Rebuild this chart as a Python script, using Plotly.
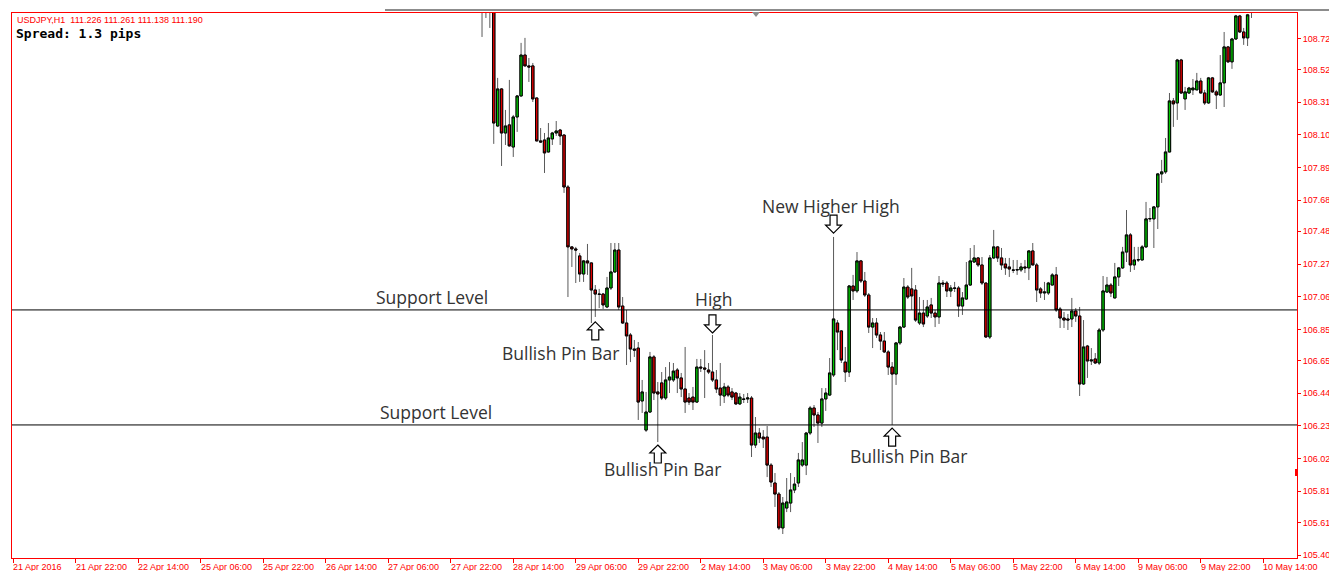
import plotly.graph_objects as go

# ---------------- data (USDJPY H1, bars counted from 21 Apr 2016 06:00) ----------------
FIRST_BAR = 120

opens = [
    109.050, 109.000, 108.950, 109.020, 108.157, 108.395, 108.112, 108.164, 108.022, 108.215,
    108.350, 108.613, 108.543, 108.543, 108.337, 108.061, 108.067, 107.990, 108.074, 108.112,
    108.131, 108.099, 107.765, 107.380, 107.367, 107.322, 107.206, 107.290, 107.277, 107.103,
    107.077, 107.077, 106.994, 107.116, 107.219, 107.360, 107.000, 106.891, 106.814, 106.724,
    106.730, 106.390, 106.203, 106.319, 106.673, 106.448, 106.506, 106.409, 106.525, 106.525,
    106.589, 106.538, 106.467, 106.409, 106.415, 106.383, 106.608, 106.602, 106.589, 106.576,
    106.525, 106.473, 106.422, 106.480, 106.448, 106.441, 106.371, 106.403, 106.403, 106.409,
    106.107, 106.184, 106.158, 106.158, 105.978, 105.863, 105.792, 105.574, 105.702, 105.734,
    105.818, 105.863, 105.978, 105.978, 106.184, 106.345, 106.300, 106.248, 106.403, 106.428,
    106.557, 106.891, 106.840, 106.640, 106.576, 107.129, 107.097, 107.290, 107.161, 107.071,
    106.865, 106.891, 106.814, 106.775, 106.705, 106.608, 106.563, 106.763, 106.865, 107.122,
    107.110, 107.103, 106.891, 106.955, 106.936, 107.007, 106.955, 106.930, 107.148, 107.148,
    107.097, 107.116, 107.116, 107.000, 107.045, 107.135, 107.283, 107.309, 107.264, 107.148,
    106.801, 107.309, 107.380, 107.309, 107.270, 107.251, 107.232, 107.232, 107.232, 107.251,
    107.245, 107.354, 107.264, 107.110, 107.084, 107.084, 107.135, 107.200, 106.981, 106.923,
    106.917, 106.917, 106.968, 106.936, 106.499, 106.743, 106.647, 106.660, 106.634, 106.846,
    107.090, 107.135, 107.052, 107.187, 107.245, 107.347, 107.457, 107.264, 107.296, 107.296,
    107.380, 107.560, 107.560, 107.637, 107.849, 107.862, 107.990, 108.318, 108.305, 108.581,
    108.331, 108.369, 108.389, 108.389, 108.446, 108.369, 108.305, 108.466, 108.376, 108.356,
    108.434, 108.665, 108.569, 108.716, 108.864, 108.761, 108.723, 108.900,
]

highs = [
    109.120, 109.050, 109.060, 109.040, 108.466, 108.400, 108.260, 108.453, 108.228, 108.356,
    108.691, 108.723, 108.594, 108.562, 108.340, 108.144, 108.112, 108.176, 108.119, 108.189,
    108.138, 108.102, 107.778, 107.383, 107.380, 107.341, 107.296, 107.399, 107.280, 107.135,
    107.110, 107.084, 107.187, 107.405, 107.405, 107.405, 107.058, 106.975, 106.827, 106.782,
    106.769, 106.525, 106.448, 106.705, 106.685, 106.512, 106.576, 106.608, 106.640, 106.634,
    106.602, 106.570, 106.737, 106.441, 106.480, 106.660, 106.660, 106.717, 106.634, 106.814,
    106.589, 106.634, 106.506, 106.493, 106.473, 106.448, 106.441, 106.435, 106.441, 106.422,
    106.287, 106.216, 106.203, 106.229, 105.991, 105.927, 105.805, 105.773, 105.895, 105.927,
    105.901, 106.056, 106.126, 106.191, 106.358, 106.364, 106.319, 106.473, 106.473, 106.666,
    107.444, 106.910, 106.846, 106.737, 107.135, 107.200, 107.347, 107.296, 107.219, 107.084,
    106.923, 106.923, 106.833, 106.833, 106.717, 106.640, 106.769, 106.872, 107.180, 107.135,
    107.245, 107.135, 107.058, 107.039, 107.039, 107.052, 106.975, 107.193, 107.167, 107.161,
    107.135, 107.155, 107.129, 107.090, 107.283, 107.373, 107.392, 107.315, 107.315, 107.150,
    107.328, 107.489, 107.386, 107.373, 107.309, 107.309, 107.296, 107.296, 107.277, 107.296,
    107.360, 107.405, 107.277, 107.122, 107.155, 107.155, 107.212, 107.251, 106.994, 106.962,
    106.949, 107.052, 106.987, 106.994, 106.910, 106.750, 106.730, 106.698, 106.859, 107.193,
    107.187, 107.148, 107.277, 107.251, 107.380, 107.617, 107.469, 107.380, 107.380, 107.392,
    107.669, 107.630, 107.643, 107.855, 107.939, 108.080, 108.369, 108.337, 108.588, 108.588,
    108.408, 108.408, 108.459, 108.498, 108.466, 108.389, 108.472, 108.472, 108.389, 108.613,
    108.761, 108.671, 108.723, 108.871, 108.871, 108.787, 108.877, 108.950,
]

lows = [
    108.729, 108.851, 108.787, 108.042, 108.150, 107.900, 108.035, 108.025, 107.958, 108.119,
    108.345, 108.540, 108.440, 108.311, 108.058, 108.048, 107.855, 107.987, 108.035, 108.093,
    108.035, 107.727, 107.058, 107.251, 107.148, 107.155, 107.155, 107.200, 106.891, 106.930,
    106.987, 106.981, 106.987, 107.103, 107.215, 106.975, 106.885, 106.621, 106.640, 106.673,
    106.268, 106.313, 106.191, 106.313, 106.396, 106.126, 106.396, 106.396, 106.441, 106.512,
    106.441, 106.415, 106.313, 106.364, 106.332, 106.377, 106.576, 106.409, 106.563, 106.512,
    106.441, 106.358, 106.377, 106.415, 106.396, 106.364, 106.364, 106.377, 106.377, 106.030,
    106.088, 106.120, 106.088, 105.901, 105.837, 105.709, 105.561, 105.535, 105.676, 105.676,
    105.798, 105.837, 105.966, 105.914, 106.171, 106.223, 106.120, 106.223, 106.326, 106.422,
    106.544, 106.717, 106.634, 106.512, 106.544, 107.039, 107.084, 107.148, 107.058, 106.827,
    106.730, 106.795, 106.717, 106.698, 106.557, 106.236, 106.493, 106.750, 106.859, 107.045,
    106.975, 106.898, 106.878, 106.865, 106.923, 106.923, 106.865, 106.885, 107.122, 107.058,
    107.058, 107.090, 106.930, 106.943, 107.039, 107.129, 107.277, 107.251, 107.135, 106.795,
    106.788, 107.302, 107.283, 107.232, 107.200, 107.187, 107.212, 107.200, 107.219, 107.212,
    107.167, 107.262, 107.026, 107.052, 107.039, 107.071, 107.133, 106.962, 106.859, 106.859,
    106.846, 106.865, 106.898, 106.422, 106.493, 106.538, 106.621, 106.627, 106.621, 106.833,
    107.084, 107.058, 107.050, 107.129, 107.238, 107.283, 107.219, 107.232, 107.283, 107.294,
    107.373, 107.540, 107.373, 107.495, 107.791, 107.849, 107.988, 108.151, 108.196, 108.363,
    108.260, 108.363, 108.356, 108.387, 108.367, 108.292, 108.299, 108.369, 108.266, 108.350,
    108.279, 108.562, 108.524, 108.710, 108.755, 108.678, 108.671, 108.851,
]

closes = [
    109.000, 108.950, 109.020, 108.176, 108.395, 108.112, 108.157, 108.029, 108.215, 108.350,
    108.613, 108.543, 108.536, 108.331, 108.061, 108.054, 107.984, 108.080, 108.112, 108.125,
    108.093, 107.765, 107.380, 107.367, 107.360, 107.206, 107.290, 107.277, 107.103, 107.077,
    107.075, 107.007, 107.116, 107.219, 107.360, 106.994, 106.891, 106.808, 106.724, 106.717,
    106.383, 106.448, 106.319, 106.673, 106.441, 106.435, 106.409, 106.525, 106.544, 106.582,
    106.538, 106.467, 106.383, 106.383, 106.383, 106.608, 106.602, 106.595, 106.576, 106.525,
    106.467, 106.428, 106.480, 106.428, 106.415, 106.371, 106.415, 106.400, 106.409, 106.107,
    106.184, 106.152, 106.146, 105.978, 105.869, 105.792, 105.574, 105.734, 105.741, 105.818,
    105.856, 106.011, 106.011, 106.184, 106.345, 106.300, 106.248, 106.403, 106.441, 106.570,
    106.917, 106.833, 106.653, 106.576, 107.129, 107.097, 107.290, 107.161, 107.071, 106.865,
    106.891, 106.814, 106.775, 106.705, 106.608, 106.563, 106.763, 106.865, 107.122, 107.058,
    107.065, 106.910, 106.955, 106.885, 106.994, 106.955, 106.930, 107.148, 107.142, 107.097,
    107.116, 107.114, 107.000, 107.052, 107.135, 107.290, 107.309, 107.264, 107.148, 106.801,
    107.309, 107.380, 107.309, 107.264, 107.245, 107.238, 107.230, 107.234, 107.251, 107.245,
    107.354, 107.264, 107.103, 107.084, 107.090, 107.148, 107.200, 106.975, 106.923, 106.910,
    106.910, 106.968, 106.936, 106.499, 106.737, 106.647, 106.653, 106.634, 106.846, 107.097,
    107.135, 107.084, 107.187, 107.245, 107.347, 107.457, 107.264, 107.296, 107.298, 107.380,
    107.560, 107.562, 107.637, 107.849, 107.862, 107.990, 108.318, 108.299, 108.581, 108.369,
    108.376, 108.401, 108.401, 108.446, 108.369, 108.305, 108.466, 108.376, 108.356, 108.434,
    108.665, 108.569, 108.716, 108.864, 108.761, 108.723, 108.871, 108.930,
]

support_levels = [106.975, 106.236]

xtick_bars = [0, 16, 32, 48, 64, 80, 96, 112, 128, 144, 160,
              176, 192, 208, 224, 240, 256, 272, 288, 304, 320]
xtick_labels = ["21 Apr 2016", "21 Apr 22:00", "22 Apr 14:00", "25 Apr 06:00",
                "25 Apr 22:00", "26 Apr 14:00", "27 Apr 06:00", "27 Apr 22:00",
                "28 Apr 14:00", "29 Apr 06:00", "29 Apr 22:00", "2 May 14:00",
                "3 May 06:00", "3 May 22:00", "4 May 14:00", "5 May 06:00",
                "5 May 22:00", "6 May 14:00", "9 May 06:00", "9 May 22:00",
                "10 May 14:00"]
ytick_values = [105.40, 105.61, 105.81, 106.02, 106.23, 106.44, 106.65, 106.85,
                107.06, 107.27, 107.48, 107.68, 107.89, 108.10, 108.31, 108.52, 108.72]

# marker arrows: (bar index, tip price, direction)
arrow_bars = [149, 165, 179, 210, 225]
arrow_tips = [106.898, 106.107, 106.827, 107.469, 106.216]
arrow_dirs = ["up", "up", "down", "down", "up"]

# text labels: (text, bar position, price)
label_texts = ["Support Level", "Support Level", "Bullish Pin Bar", "High",
               "New Higher High", "Bullish Pin Bar", "Bullish Pin Bar"]
label_bars = [107.1, 108.2, 140.2, 179.3, 209.3, 166.3, 229.3]
label_prices = [107.058, 106.319, 106.698, 107.045, 107.643, 105.953, 106.036]

# ---------------- figure ----------------
W, H = 1329, 571
ML, MR, MT, MB = 12, 32, 13, 13
PW, PH = W - ML - MR, H - MT - MB
x_range = [-0.333, 328.65]
y_range = [105.381, 108.883]
px_x = (x_range[1] - x_range[0]) / PW
px_y = (y_range[1] - y_range[0]) / PH

n = len(opens)
bars = list(range(FIRST_BAR, FIRST_BAR + n))
body_hi = [max(o, c) for o, c in zip(opens, closes)]
body_lo = [min(o, c) for o, c in zip(opens, closes)]

WICK = "#5a5a5a"
fig = go.Figure()
fig.add_trace(go.Candlestick(
    x=bars, open=opens, high=highs, low=lows, close=closes,
    increasing=dict(line=dict(color=WICK, width=1), fillcolor=WICK),
    decreasing=dict(line=dict(color=WICK, width=1), fillcolor=WICK),
    hoverinfo="skip", showlegend=False))
fig.add_trace(go.Candlestick(
    x=bars, open=opens, high=body_hi, low=body_lo, close=closes,
    increasing=dict(line=dict(color="black", width=1), fillcolor="#00c800"),
    decreasing=dict(line=dict(color="black", width=1), fillcolor="#e00000"),
    hoverinfo="skip", showlegend=False))

shapes = []
for lvl in support_levels:
    shapes.append(dict(type="line", xref="paper", yref="y", x0=0, x1=1, y0=lvl, y1=lvl,
                       line=dict(color="black", width=1)))

# block arrow outline in pixel offsets (x, distance from tip)
arrow_px = [(0, 0), (8, 8), (3.5, 8), (3.5, 18), (-3.5, 18), (-3.5, 8), (-8, 8)]
for b, tip, d in zip(arrow_bars, arrow_tips, arrow_dirs):
    sgn = -1 if d == "up" else 1
    pts = [(b + dx * px_x, tip + sgn * dy * px_y) for dx, dy in arrow_px]
    path = "M " + " L ".join(f"{x:.4f},{y:.5f}" for x, y in pts) + " Z"
    shapes.append(dict(type="path", xref="x", yref="y", path=path,
                       fillcolor="white", line=dict(color="black", width=1.2)))

# window chrome: gray top line, shift triangle, price marker
shapes.append(dict(type="line", xref="paper", yref="paper", x0=(385 - ML) / PW,
                   x1=(W - ML) / PW, y0=1 + 3 / PH, y1=1 + 3 / PH,
                   line=dict(color="#8c8c8c", width=2)))
shapes.append(dict(type="path", xref="paper", yref="paper",
                   path=f"M {740/PW},{1+1/PH} L {748/PW},{1+1/PH} L {744/PW},{1-4/PH} Z",
                   fillcolor="#8c8c8c", line=dict(width=0)))
shapes.append(dict(type="rect", xref="paper", yref="paper",
                   x0=(1295 - ML) / PW, x1=(1298 - ML) / PW,
                   y0=(H - MB - 476) / PH, y1=(H - MB - 469) / PH,
                   fillcolor="red", line=dict(width=0)))

annotations = []
for t, xb, yp in zip(label_texts, label_bars, label_prices):
    annotations.append(dict(x=xb, y=yp, xref="x", yref="y", text=t, showarrow=False,
                            xanchor="center", yanchor="middle",
                            font=dict(family="Open Sans", size=17.5, color="#333333")))
for xb, lab in zip(xtick_bars, xtick_labels):
    annotations.append(dict(x=xb, y=0, xref="x", yref="paper", text=lab, showarrow=False,
                            xanchor="left", yanchor="middle", xshift=-2, yshift=-9,
                            font=dict(family="Liberation Sans", size=9, color="red")))
annotations.append(dict(x=0, y=1, xref="paper", yref="paper", showarrow=False,
                        text="USDJPY,H1  111.226 111.261 111.138 111.190",
                        xanchor="left", yanchor="middle", xshift=3, yshift=-7,
                        font=dict(family="Liberation Sans", size=9, color="red")))
annotations.append(dict(x=0, y=1, xref="paper", yref="paper", showarrow=False,
                        text="<b>Spread: 1.3 pips</b>",
                        xanchor="left", yanchor="middle", xshift=2, yshift=-20,
                        font=dict(family="DejaVu Sans Mono", size=13, color="black")))

fig.update_layout(
    width=W, height=H,
    margin=dict(l=ML, r=MR, t=MT, b=MB, pad=0, autoexpand=False),
    paper_bgcolor="white", plot_bgcolor="white",
    showlegend=False, hovermode=False,
    boxgap=0.4, boxgroupgap=0.0,
    shapes=shapes, annotations=annotations,
    xaxis=dict(range=x_range, rangeslider=dict(visible=False), showgrid=False,
               zeroline=False, showline=True, linecolor="red", linewidth=1, mirror=True,
               ticks="outside", tickvals=xtick_bars, ticklen=4, tickcolor="red",
               tickwidth=1, showticklabels=False, fixedrange=True, automargin=False),
    yaxis=dict(range=y_range, side="right", showgrid=False, zeroline=False,
               showline=True, linecolor="red", linewidth=1, mirror=True,
               ticks="outside", ticklen=3, tickcolor="red", tickwidth=1,
               tickvals=ytick_values, ticktext=[f"{v:.2f}" for v in ytick_values],
               tickfont=dict(family="Liberation Sans", size=9, color="red"),
               fixedrange=True, automargin=False),
)

fig.write_html("out.html")
